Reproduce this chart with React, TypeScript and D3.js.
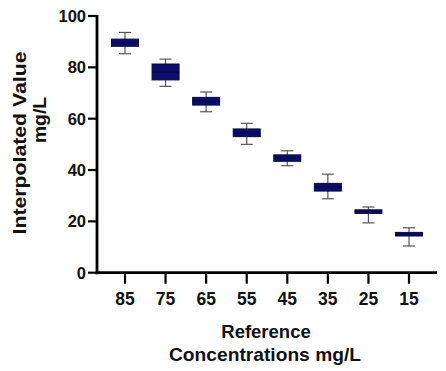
import React from "react";
import * as d3 from "d3";

const categories = ["85", "75", "65", "55", "45", "35", "25", "15"];
const whiskerHigh = [93.6, 83.2, 70.4, 58.2, 47.5, 38.4, 25.6, 17.5];
const boxHigh = [91.0, 81.3, 68.3, 56.0, 45.9, 34.8, 24.5, 15.7];
const medians = [89.6, 78.2, 66.8, 54.5, 44.7, 33.3, 23.8, 15.0];
const boxLow = [88.2, 75.1, 65.3, 53.0, 43.4, 31.8, 23.1, 14.3];
const whiskerLow = [85.3, 72.6, 62.7, 50.0, 41.7, 28.8, 19.4, 10.4];
const yTicks = [0, 20, 40, 60, 80, 100];

export default function App() {
  const W = 446, H = 371;
  const x0 = 97, x1 = 437, yTop = 16, yBot = 272.7;
  const x = d3.scalePoint<string>().domain(categories).range([x0, x1]).padding(0.69);
  const y = d3.scaleLinear().domain([0, 100]).range([yBot, yTop]);
  const boxW = 27, capW = 12;
  const font = "Liberation Sans, Arial, sans-serif";
  return (
    <svg width={W} height={H} style={{ position: "absolute", left: 0, top: 0 }}>
      <rect width={W} height={H} fill="#fff" />
      {categories.map((c, i) => {
        const cx = x(c)!;
        return (
          <g key={c}>
            <line x1={cx} x2={cx} y1={y(whiskerHigh[i])} y2={y(whiskerLow[i])} stroke="#555" strokeWidth={1.2} />
            <line x1={cx - capW / 2} x2={cx + capW / 2} y1={y(whiskerHigh[i])} y2={y(whiskerHigh[i])} stroke="#555" strokeWidth={1.2} />
            <line x1={cx - capW / 2} x2={cx + capW / 2} y1={y(whiskerLow[i])} y2={y(whiskerLow[i])} stroke="#555" strokeWidth={1.2} />
            <rect x={cx - boxW / 2} y={y(boxHigh[i])} width={boxW} height={y(boxLow[i]) - y(boxHigh[i])}
              fill="#0c0e6e" stroke="#08083f" strokeWidth={1} />
            <line x1={cx - boxW / 2} x2={cx + boxW / 2} y1={y(medians[i])} y2={y(medians[i])} stroke="#08083f" strokeWidth={1} />
          </g>
        );
      })}
      {/* y axis */}
      <line x1={x0} x2={x0} y1={yTop - 1} y2={yBot + 1.5} stroke="#000" strokeWidth={2.8} />
      {yTicks.map((t) => (
        <g key={t}>
          <line x1={x0 - 9} x2={x0} y1={y(t)} y2={y(t)} stroke="#000" strokeWidth={2.2} />
          <text x={x0 - 11} y={y(t)} dy="0.36em" textAnchor="end" fontFamily={font} fontWeight="bold" fontSize={16.5} fill="#111">{t}</text>
        </g>
      ))}
      {/* x axis */}
      <line x1={x0 - 1.4} x2={x1} y1={yBot} y2={yBot} stroke="#000" strokeWidth={2.8} />
      {categories.map((c) => (
        <g key={c}>
          <line x1={x(c)!} x2={x(c)!} y1={yBot} y2={yBot + 11} stroke="#000" strokeWidth={2.2} />
          <text x={x(c)!} y={305} textAnchor="middle" fontFamily={font} fontWeight="bold" fontSize={17.5} fill="#111">{c}</text>
        </g>
      ))}
      <text x={266} y={338} textAnchor="middle" fontFamily={font} fontWeight="bold" fontSize={18.5} fill="#111">Reference</text>
      <text x={265} y={361} textAnchor="middle" fontFamily={font} fontWeight="bold" fontSize={18.5} fill="#111"
        textLength={192} lengthAdjust="spacingAndGlyphs">Concentrations mg/L</text>
      <text transform={`translate(26,143) rotate(-90)`} textAnchor="middle" fontFamily={font} fontWeight="bold" fontSize={18} fill="#111"
        textLength={183} lengthAdjust="spacingAndGlyphs">Interpolated Value</text>
      <text transform={`translate(46,120) rotate(-90)`} textAnchor="middle" fontFamily={font} fontWeight="bold" fontSize={18} fill="#111"
        textLength={46} lengthAdjust="spacingAndGlyphs">mg/L</text>
    </svg>
  );
}
